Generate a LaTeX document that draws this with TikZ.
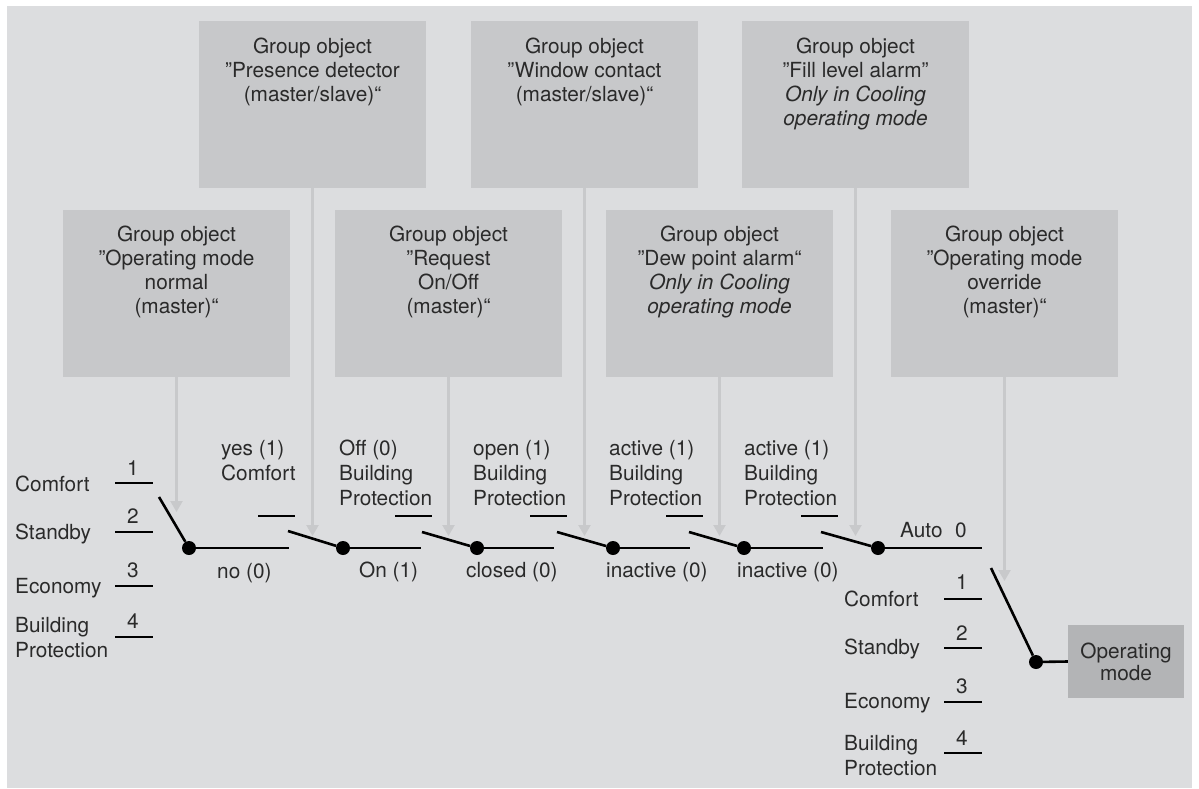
\documentclass[tikz,border=0pt]{standalone}
\usepackage{fontspec}
\setmainfont{TeX Gyre Heros}
\usetikzlibrary{arrows.meta}
\definecolor{bgc}{HTML}{DCDDDF}
\definecolor{boxg}{HTML}{C7C8CA}
\definecolor{boxd}{HTML}{B3B4B6}
\definecolor{arrc}{HTML}{C8C9CB}
\definecolor{txtc}{HTML}{2A2A2A}
\newcommand{\mlc}[1]{\begin{tabular}[t]{@{}c@{}}#1\end{tabular}}
\newcommand{\mll}[1]{\begin{tabular}[t]{@{}l@{}}#1\end{tabular}}
\newcommand{\fsl}{\fontsize{20.8}{25}\selectfont}
\newcommand{\fsb}{\fontsize{20.8}{24}\selectfont}
\newcommand{\fso}{\fontsize{20.8}{22.5}\selectfont}
\begin{document}
\begin{tikzpicture}[x=1pt,y=-1pt,
  gbox/.style={fill=boxg, minimum width=227pt, minimum height=167pt, inner sep=0pt, outer sep=0pt},
  btxt/.style={anchor=base, inner sep=0pt, text=txtc, font=\fsb},
  lbl/.style={anchor=base west, inner sep=0pt, text=txtc, font=\fsl},
  num/.style={anchor=base, inner sep=0pt, text=txtc, font=\fsl},
  feed/.style={draw=arrc, line width=2.2pt, -{Triangle[width=12pt,length=11pt]}},
  wire/.style={draw=black, line width=2.6pt},
  pivot/.style={circle, fill=black, minimum size=14pt, inner sep=0pt},
  contact/.style={draw=black, line width=2.4pt}]
\useasboundingbox (0,0) rectangle (1199,789);
\fill[white] (0,0) rectangle (1199,789);
\fill[bgc] (7,6) rectangle (1192,788);

% top row boxes
\node[gbox] (pres) at (312.5,104.5) {};
\node[gbox] (wind) at (584.5,104.5) {};
\node[gbox] (fill) at (855.5,104.5) {};
\node[btxt] (presT) at (312.5,54) {\mlc{Group object\\”Presence detector\\(master/slave)“}};
\node[btxt] (windT) at (584.5,54) {\mlc{Group object\\”Window contact\\(master/slave)“}};
\node[btxt] (fillT) at (855.5,54) {\mlc{Group object\\”Fill level alarm”\\\textit{Only in Cooling}\\\textit{operating mode}}};

% second row boxes
\node[gbox] (norm) at (176.5,293.5) {};
\node[gbox] (requ) at (448.5,293.5) {};
\node[gbox] (dewp) at (719.5,293.5) {};
\node[gbox] (over) at (1004.5,293.5) {};
\node[btxt] (normT) at (176.5,241) {\mlc{Group object\\”Operating mode\\normal\\(master)“}};
\node[btxt] (requT) at (448.5,241) {\mlc{Group object\\”Request\\On/Off\\(master)“}};
\node[btxt] (dewpT) at (719.5,241) {\mlc{Group object\\”Dew point alarm“\\\textit{Only in Cooling}\\\textit{operating mode}}};
\node[btxt] (overT) at (1004.5,241) {\mlc{Group object\\”Operating mode\\override\\(master)“}};

% arrow tips
\coordinate (tNorm) at (176.5,512);
\coordinate (tPres) at (312.5,536);
\coordinate (tRequ) at (448.5,536);
\coordinate (tWind) at (584.5,536);
\coordinate (tDewp) at (719.5,536);
\coordinate (tFill) at (855.5,536);
\coordinate (tOver) at (1004.5,581);
\draw[feed] (norm.south) -- (tNorm);
\draw[feed] (pres.south) -- (tPres);
\draw[feed] (requ.south) -- (tRequ);
\draw[feed] (wind.south) -- (tWind);
\draw[feed] (dewp.south) -- (tDewp);
\draw[feed] (fill.south) -- (tFill);
\draw[feed] (over.south) -- (tOver);

% left selector contacts
\draw[contact] (115,483) coordinate (l1a) -- (153,483) coordinate (l1b);
\draw[contact] (115,532) coordinate (l2a) -- (153,532) coordinate (l2b);
\draw[contact] (115,586) coordinate (l3a) -- (153,586) coordinate (l3b);
\draw[contact] (115,637) coordinate (l4a) -- (153,637) coordinate (l4b);
\node[num] (n1) at (133,475) {1};
\node[num] (n2) at (133,523) {2};
\node[num] (n3) at (133,577) {3};
\node[num] (n4) at (133,628) {4};
\node[lbl] (lC) at (15,491) {Comfort};
\node[lbl] (lS) at (15,539) {Standby};
\node[lbl] (lE) at (15,593) {Economy};
\node[lbl] (lB) at (15,632) {\mll{Building\\Protection}};

% pivots
\node[pivot] (pA) at (189,548) {};
\node[pivot] (pB) at (343,548) {};
\node[pivot] (pC) at (477,548) {};
\node[pivot] (pD) at (613,548) {};
\node[pivot] (pE) at (744,548) {};
\node[pivot] (pF) at (878,548) {};
\node[pivot] (pG) at (1036,662) {};

% lever tips and line ends
\coordinate (kA) at (159,497);
\coordinate (hA) at (289,548);
\coordinate (kB) at (288,531);
\coordinate (hB) at (421,548);
\coordinate (kC) at (422,532);
\coordinate (hC) at (554,548);
\coordinate (kD) at (557,532);
\coordinate (hD) at (690,548);
\coordinate (kE) at (689,532);
\coordinate (hE) at (823,548);
\coordinate (kF) at (821,532);
\coordinate (hF) at (982,548);
\coordinate (kG) at (991,568);

% Operating mode box
\node[fill=boxd, minimum width=116pt, minimum height=73pt, inner sep=0pt] (om) at (1126,661.5) {};
\node[anchor=base, inner sep=0pt, text=txtc, font=\fso] (omT) at (1126,658) {\mlc{Operating\\mode}};

\draw[wire] (pA) -- (kA);
\draw[wire] (pA) -- (hA);
\draw[wire] (pB) -- (kB);
\draw[wire] (pB) -- (hB);
\draw[wire] (pC) -- (kC);
\draw[wire] (pC) -- (hC);
\draw[wire] (pD) -- (kD);
\draw[wire] (pD) -- (hD);
\draw[wire] (pE) -- (kE);
\draw[wire] (pE) -- (hE);
\draw[wire] (pF) -- (kF);
\draw[wire] (pF) -- (hF);
\draw[wire] (pG) -- (kG);
\draw[wire] (pG) -- (om.west);

% upper contacts
\draw[contact] (258,516) -- (295,516);
\draw[contact] (395,516) -- (432,516);
\draw[contact] (530,516) -- (567,516);
\draw[contact] (666,516) -- (703,516);
\draw[contact] (801,516) -- (838,516);

% switch labels
\node[lbl] (sB1) at (221,455) {\mll{yes (1)\\Comfort}};
\node[lbl] (sB0) at (217,578) {no (0)};
\node[lbl] (sC1) at (339,455) {\mll{Off (0)\\Building\\Protection}};
\node[lbl] (sC0) at (359,577) {On (1)};
\node[lbl] (sD1) at (473,455) {\mll{open (1)\\Building\\Protection}};
\node[lbl] (sD0) at (466,577) {closed (0)};
\node[lbl] (sE1) at (609,455) {\mll{active (1)\\Building\\Protection}};
\node[lbl] (sE0) at (606,577) {inactive (0)};
\node[lbl] (sF1) at (744,455) {\mll{active (1)\\Building\\Protection}};
\node[lbl] (sF0) at (737,577) {inactive (0)};
\node[lbl] (sAuto) at (900,537) {Auto};
\node[num] (r0) at (961,537) {0};

% right selector contacts
\draw[contact] (944,599) -- (982,599);
\draw[contact] (944,648) -- (982,648);
\draw[contact] (944,702) -- (982,702);
\draw[contact] (944,753) -- (982,753);
\node[num] (r1) at (962,589) {1};
\node[num] (r2) at (962,640) {2};
\node[num] (r3) at (962,693) {3};
\node[num] (r4) at (962,745) {4};
\node[lbl] (rC) at (844,606) {Comfort};
\node[lbl] (rS) at (844,654) {Standby};
\node[lbl] (rE) at (844,708) {Economy};
\node[lbl] (rB) at (844,750) {\mll{Building\\Protection}};
\end{tikzpicture}
\end{document}
